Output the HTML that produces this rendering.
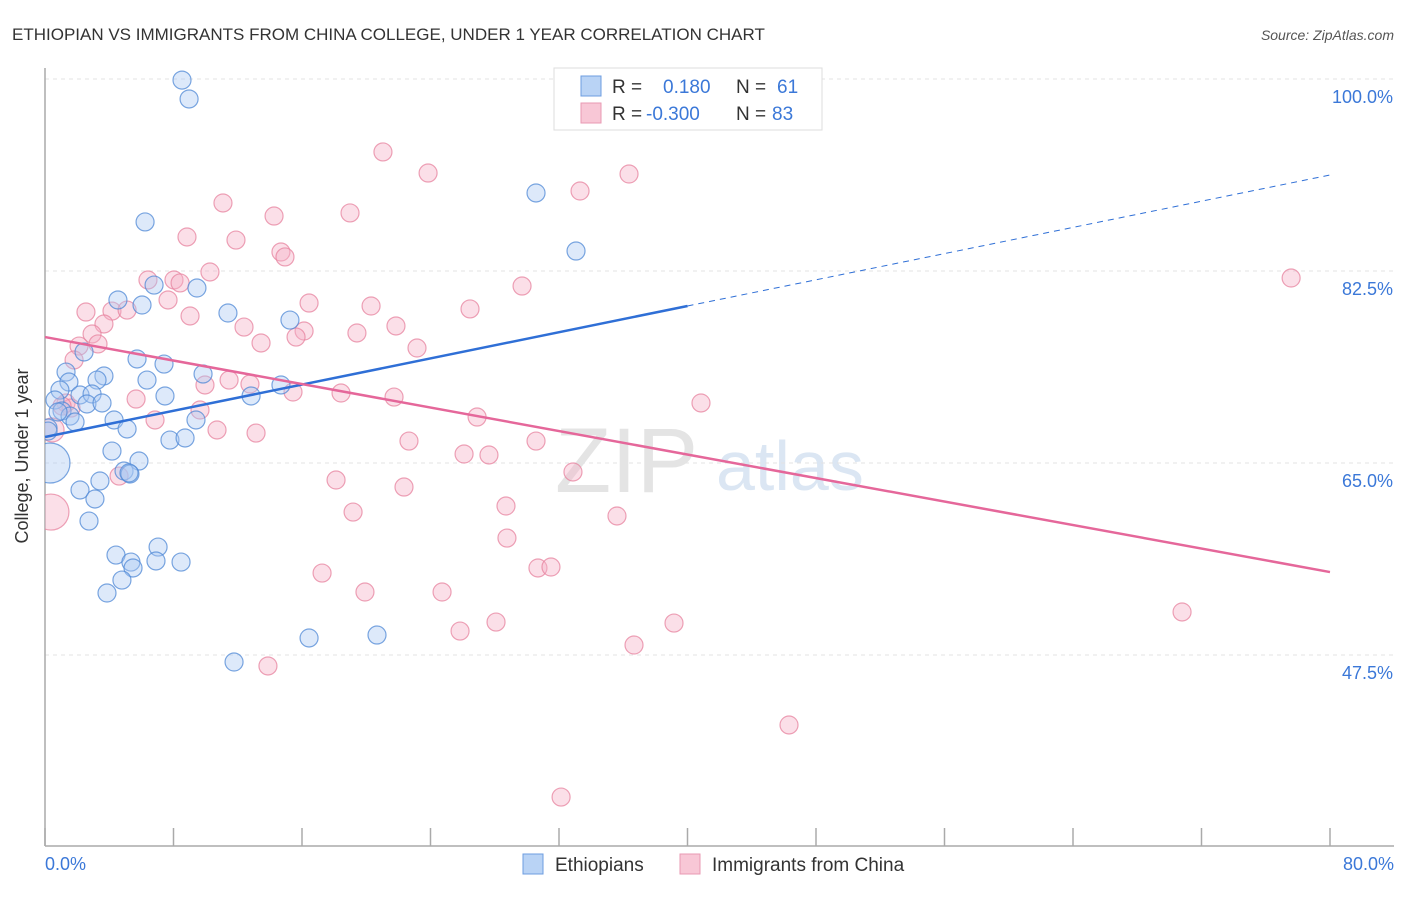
<!DOCTYPE html>
<html><head><meta charset="utf-8"><style>
body{margin:0;background:#fff;font-family:"Liberation Sans",sans-serif;}
svg text{font-family:"Liberation Sans",sans-serif;}
</style></head><body>
<svg id="chart" width="1406" height="892" viewBox="0 0 1406 892" xmlns="http://www.w3.org/2000/svg">
<defs><clipPath id="plotclip"><rect x="45" y="60" width="1360" height="786"/></clipPath></defs>
<text x="12" y="40" font-size="17" fill="#333">ETHIOPIAN VS IMMIGRANTS FROM CHINA COLLEGE, UNDER 1 YEAR CORRELATION CHART</text>
<text x="1394" y="40" font-size="14" fill="#555" font-style="italic" text-anchor="end">Source: ZipAtlas.com</text>
<g><text x="555" y="492" font-size="92" fill="#e4e4e4" font-family="Liberation Serif">ZIP</text><text x="716" y="490" font-size="70" fill="#dbe6f3">atlas</text></g>
<g id="grid"></g>
<g id="axes"></g>
<g id="pts" clip-path="url(#plotclip)"></g>
<g id="trends"></g>
<text x="28" y="456" font-size="18" fill="#333" text-anchor="middle" transform="rotate(-90 28 456)">College, Under 1 year</text>
<g>
<rect x="554" y="68" width="268" height="62" fill="#fff" stroke="#ddd"/>
<rect x="581" y="76" width="20" height="20" fill="#b9d3f5" stroke="#6d9de0"/>
<rect x="581" y="103" width="20" height="20" fill="#f8c7d6" stroke="#e89ab3"/>
<text x="612" y="93" font-size="19" fill="#333">R = <tspan fill="#3b78d8" x="663">0.180</tspan><tspan x="736">N = </tspan><tspan fill="#3b78d8" x="777">61</tspan></text>
<text x="612" y="120" font-size="19" fill="#333">R = <tspan fill="#3b78d8" x="646">-0.300</tspan><tspan x="736">N = </tspan><tspan fill="#3b78d8" x="772">83</tspan></text>
</g>
<g>
<rect x="523" y="854" width="20" height="20" fill="#b9d3f5" stroke="#6d9de0"/>
<text x="555" y="871" font-size="19" fill="#333">Ethiopians</text>
<rect x="680" y="854" width="20" height="20" fill="#f8c7d6" stroke="#e89ab3"/>
<text x="712" y="871" font-size="19" fill="#333">Immigrants from China</text>
</g>
</svg>
<script>
const xTickVals=[0,8,16,24,32,40,48,56,64,72,80];
const yGridVals=[100,82.5,65,47.5];
const yTickLabels=["100.0%","82.5%","65.0%","47.5%"];
const xEndLabels=["0.0%","80.0%"];
const ethX=[8.53,8.97,30.57,33.06,6.23,9.46,4.54,6.04,6.79,11.39,15.25,2.43,5.73,7.41,1.31,1.49,3.67,3.24,6.35,0.93,2.18,2.93,7.47,12.83,9.84,14.69,0.62,2.61,3.55,1.06,1.56,0.81,1.87,4.30,0.19,5.11,9.40,7.78,8.72,4.17,5.85,0.31,4.92,5.29,3.42,2.18,3.11,2.74,4.42,7.04,5.35,5.48,6.91,8.47,4.79,3.86,16.44,20.67,11.77,0.19,5.23];
const ethY=[99.9,98.18,89.61,84.32,86.97,80.95,79.86,79.40,81.22,78.67,78.03,75.12,74.48,74.02,73.29,72.38,72.93,72.56,72.56,71.65,71.20,71.29,71.11,71.11,73.11,72.11,70.74,70.38,70.47,69.74,69.28,69.65,68.74,68.92,68.19,68.10,68.92,67.09,67.28,66.09,65.18,65.00,64.27,64.00,63.36,62.54,61.72,59.71,56.61,57.34,55.97,55.43,56.07,55.97,54.33,53.15,49.05,49.32,46.86,67.91,64.09];
const chnX=[0.37,0.44,34.55,21.04,23.85,36.36,33.31,11.08,14.26,18.99,8.84,11.89,14.69,14.94,10.27,6.41,8.03,8.41,29.70,7.66,16.44,20.30,2.55,4.17,5.11,9.03,26.46,12.39,3.67,21.85,16.13,2.93,19.42,15.63,13.45,3.30,2.12,23.16,1.81,11.46,9.96,12.76,15.44,18.43,21.73,5.67,9.65,1.31,1.62,1.06,26.90,6.85,10.71,13.14,22.66,30.57,40.84,26.09,27.64,32.87,18.12,22.35,4.61,28.70,19.18,35.61,28.76,17.25,30.69,31.50,19.92,24.72,25.84,28.08,39.16,36.67,13.88,70.79,77.58,46.32,32.13];
const chnY=[60.53,68.01,98.36,93.35,91.43,91.34,89.79,88.70,87.51,87.79,85.60,85.32,84.23,83.78,82.41,81.68,81.68,81.41,81.13,79.86,79.58,79.31,78.76,78.85,78.94,78.40,79.04,77.39,77.67,77.49,77.03,76.76,76.85,76.48,75.94,75.85,75.66,75.48,74.39,72.56,72.11,72.20,71.47,71.38,71.01,70.83,69.83,70.47,70.01,70.19,69.19,68.92,68.01,67.73,67.00,67.00,70.47,65.82,65.73,64.18,63.45,62.81,63.81,61.08,60.53,60.17,58.16,54.97,55.43,55.52,53.24,53.24,49.68,50.50,50.41,48.41,46.50,51.42,81.86,41.12,34.55];
const ethRadius=[];ethRadius[41]=20;
const chnRadius=[];chnRadius[0]=18;chnRadius[1]=12;
const ethTrend=[67.37,91.25];
const ethSolidEnd=40;
const chnTrend=[76.48,55.06];

const NS="http://www.w3.org/2000/svg";
const X=v=>45+v/80*1285;
const Y=v=>79+(100-v)/17.5*192;
function mk(tag,attrs,parent){const e=document.createElementNS(NS,tag);for(const k in attrs)e.setAttribute(k,attrs[k]);parent.appendChild(e);return e;}
const grid=document.getElementById('grid'),axes=document.getElementById('axes'),pts=document.getElementById('pts'),tr=document.getElementById('trends');
yGridVals.forEach((v,i)=>{
  const l=mk('line',{x1:45,x2:1394,y1:Y(v),y2:Y(v),stroke:'#e3e3e3','stroke-dasharray':'4,4'},grid);
  
  
  const t=mk('text',{x:1393,y:Y(v)+24,'font-size':18,fill:'#3b78d8','text-anchor':'end'},axes);
  t.textContent=yTickLabels[i];
  
  
});
let a=mk('line',{x1:45,x2:45,y1:68,y2:846,stroke:'#aaa','stroke-width':1.5},axes);


a=mk('line',{x1:45,x2:1394,y1:846,y2:846,stroke:'#aaa','stroke-width':1.5},axes);


xTickVals.forEach(v=>{
  const l=mk('line',{x1:X(v),x2:X(v),y1:828,y2:846,stroke:'#aaa','stroke-width':1.5},axes);
  
  
});
[[0,'start',45],[80,'end',1394]].forEach((p,i)=>{
  const t=mk('text',{x:p[2],y:870,'font-size':18,fill:'#3b78d8','text-anchor':p[1]},axes);
  t.textContent=xEndLabels[i];
  
  
});
function drawPts(xs,ys,rs,fill,stroke,name){
  xs.forEach((x,i)=>{
    const c=mk('circle',{cx:X(x),cy:Y(ys[i]),r:rs[i]||9,fill:fill,'fill-opacity':0.4,stroke:stroke,'stroke-width':1.2,'stroke-opacity':0.75},pts);
    
    
  });
}
drawPts(chnX,chnY,chnRadius,'#f4b0c6','#e7839f','point-china');
drawPts(ethX,ethY,ethRadius,'#a9c9f2','#4f88d6','point-ethiopians');
const ey=x=>ethTrend[0]+(ethTrend[1]-ethTrend[0])*x/80;
let l=mk('line',{x1:X(0),y1:Y(ey(0)),x2:X(ethSolidEnd),y2:Y(ey(ethSolidEnd)),stroke:'#2f6fd6','stroke-width':2.5},tr);


l=mk('line',{x1:X(ethSolidEnd),y1:Y(ey(ethSolidEnd)),x2:X(80),y2:Y(ey(80)),stroke:'#2f6fd6','stroke-width':1,'stroke-dasharray':'6,5'},tr);


l=mk('line',{x1:X(0),y1:Y(chnTrend[0]),x2:X(80),y2:Y(chnTrend[1]),stroke:'#e5679a','stroke-width':2.5},tr);


</script>
</body></html>
